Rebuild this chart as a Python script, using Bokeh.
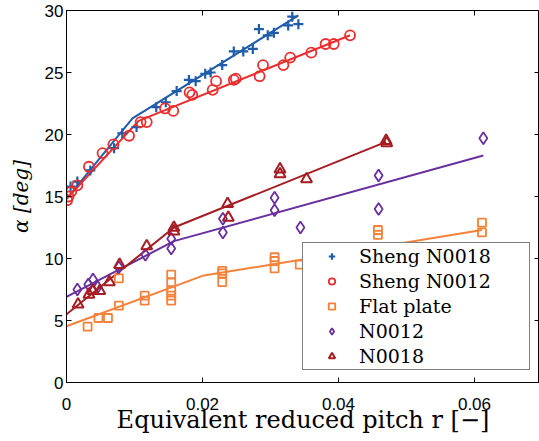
from math import pi
from bokeh.plotting import figure
from bokeh.models import Range1d, FixedTicker, Legend, LegendItem
from bokeh.embed import file_html
from bokeh.resources import INLINE

# ---- data ----
sheng18_r = [0.0006, 0.0016, 0.0035, 0.0070, 0.0082, 0.0103, 0.0132, 0.0146, 0.0162, 0.0180,
             0.0190, 0.0204, 0.0212, 0.0229, 0.0246, 0.0260, 0.0274, 0.0283, 0.0296, 0.0305,
             0.0326, 0.0332, 0.0341]
sheng18_a = [15.8, 16.2, 17.1, 18.9, 20.1, 20.6, 22.2, 22.6, 23.5, 24.4,
             24.3, 24.9, 25.0, 25.6, 26.7, 26.7, 26.9, 28.5, 28.0, 28.2,
             28.8, 29.5, 28.9]
sheng18_fit_r = [0.0, 0.0097, 0.0341]
sheng18_fit_a = [14.8, 21.3, 29.6]

sheng12_r = [0.0001, 0.0003, 0.0007, 0.0016, 0.0033, 0.0053, 0.0069, 0.0092, 0.0109, 0.0118,
             0.0145, 0.0157, 0.0181, 0.0185, 0.0215, 0.0220, 0.0246, 0.0249, 0.0284, 0.0289,
             0.0319, 0.0329, 0.0360, 0.0381, 0.0393, 0.0417]
sheng12_a = [14.7, 15.0, 15.4, 15.9, 17.4, 18.5, 19.2, 19.9, 21.0, 21.0,
             22.1, 21.9, 23.4, 23.2, 23.6, 24.3, 24.4, 24.5, 24.7, 25.6,
             25.6, 26.2, 26.6, 27.3, 27.3, 28.0]
sheng12_fit_r = [0.0, 0.0106, 0.0417]
sheng12_fit_a = [14.8, 21.1, 28.0]

flat_r = [0.0031, 0.0047, 0.0061, 0.0077, 0.0077, 0.0115, 0.0115, 0.0154, 0.0154, 0.0154,
          0.0154, 0.0154, 0.0229, 0.0229, 0.0229, 0.0306, 0.0306, 0.0306, 0.0343, 0.0458,
          0.0458, 0.0611, 0.0611]
flat_a = [4.5, 5.2, 5.2, 6.2, 8.4, 7.0, 6.6, 8.7, 8.1, 7.4,
          7.0, 6.6, 9.0, 8.8, 8.1, 10.1, 9.8, 9.2, 9.5, 12.3,
          11.9, 12.9, 12.1]
flat_fit_r = [0.0, 0.0200, 0.0611]
flat_fit_a = [4.54, 8.6, 12.3]

n12_r = [0.0016, 0.0032, 0.0039, 0.0046, 0.0077, 0.0116, 0.0154, 0.0154, 0.0230, 0.0230,
         0.0306, 0.0306, 0.0344, 0.0459, 0.0459, 0.0613]
n12_a = [7.5, 7.9, 8.3, 7.7, 9.3, 10.3, 11.6, 10.8, 13.2, 12.1,
         14.9, 13.9, 12.5, 16.7, 14.0, 19.7]
n12_fit_r = [0.0, 0.0158, 0.0613]
n12_fit_a = [6.9, 11.4, 18.3]

n18_r = [0.0017, 0.0033, 0.0039, 0.0049, 0.0063, 0.0078, 0.0118, 0.0158, 0.0158, 0.0237,
         0.0238, 0.0314, 0.0314, 0.0353, 0.0470, 0.0471]
n18_a = [6.3, 7.1, 7.4, 7.4, 8.1, 9.5, 11.0, 12.5, 12.2, 14.4,
         13.3, 17.2, 16.8, 16.4, 19.5, 19.3]
n18_fit_r = [0.0, 0.0158, 0.0470]
n18_fit_a = [5.5, 12.5, 19.4]

x_min, x_max = 0.0, 0.06956
y_min, y_max = 0.0, 30.0
x_ticks = [0, 0.02, 0.04, 0.06]
y_ticks = [0, 5, 10, 15, 20, 25, 30]
labels = ["Sheng N0018", "Sheng N0012", "Flat plate", "N0012", "N0018"]
x_title = "Equivalent reduced pitch r [\u2212]"
y_title = "\u03b1 [deg]"

BLUE = "#1f5caa"
RED = "#ec2d2d"
ORANGE = "#f5823a"
PURPLE = "#6a2f9e"
DRED = "#a61c22"

p = figure(width=539, height=441, output_backend="svg", toolbar_location=None,
           x_range=Range1d(x_min, x_max), y_range=Range1d(y_min, y_max),
           min_border_left=66, min_border_right=0, min_border_top=10, min_border_bottom=59)
p.background_fill_color = "white"
p.border_fill_color = "white"
p.outline_line_color = "black"
p.outline_line_width = 1
p.grid.visible = False

# fitted lines
p.line(sheng18_fit_r, sheng18_fit_a, line_color=BLUE, line_width=2)
p.line(sheng12_fit_r, sheng12_fit_a, line_color=RED, line_width=2)
p.line(flat_fit_r, flat_fit_a, line_color=ORANGE, line_width=2)
p.line(n12_fit_r, n12_fit_a, line_color=PURPLE, line_width=2)
p.line(n18_fit_r, n18_fit_a, line_color=DRED, line_width=2)

# markers
r1 = p.scatter(sheng18_r, sheng18_a, marker="cross", size=10, line_color=BLUE, line_width=2.2)
r2 = p.scatter(sheng12_r, sheng12_a, marker="circle", size=10, line_color=RED, line_width=1.8,
               fill_color=None)
r3 = p.scatter(flat_r, flat_a, marker="square", size=8, line_color=ORANGE, line_width=1.8,
               fill_color=None)
r4 = p.scatter(n12_r, n12_a, marker="diamond", size=12, line_color=PURPLE, line_width=1.8,
               fill_color=None)
r5 = p.scatter(n18_r, n18_a, marker="triangle", size=11, line_color=DRED, line_width=2,
               fill_color=None)

# inward ticks on the top and right frame edges (clipped to the frame)
p.scatter(x_ticks, [y_max] * len(x_ticks), marker="dash", angle=pi / 2, size=10,
          line_color="black", line_width=1)
p.scatter([x_max] * len(y_ticks), y_ticks, marker="dash", angle=0, size=10,
          line_color="black", line_width=1)

# axes
for ax in (p.xaxis[0], p.yaxis[0]):
    ax.major_tick_in = 5
    ax.major_tick_out = 0
    ax.minor_tick_line_color = None
    ax.axis_line_color = "black"
    ax.major_tick_line_color = "black"
    ax.major_label_text_font = "Liberation Sans"
    ax.major_label_text_font_size = "17px"
    ax.major_label_text_color = "black"
    ax.major_label_text_line_height = 1.0
    ax.axis_label_text_color = "black"
    ax.axis_label_text_font = "DejaVu Serif"
    ax.axis_label_text_line_height = 1.0

p.xaxis.ticker = FixedTicker(ticks=x_ticks)
p.yaxis.ticker = FixedTicker(ticks=y_ticks)
p.xaxis.major_label_standoff = 15
p.yaxis.major_label_standoff = 3
p.xaxis.axis_label = x_title
p.xaxis.axis_label_text_font_size = "24px"
p.xaxis.axis_label_text_font_style = "normal"
p.xaxis.axis_label_standoff = -7
p.yaxis.axis_label = y_title
p.yaxis.axis_label_text_font_size = "20px"
p.yaxis.axis_label_text_font_style = "italic"
p.yaxis.axis_label_standoff = 9

legend = Legend(items=[LegendItem(label=labels[0], renderers=[r1]),
                       LegendItem(label=labels[1], renderers=[r2]),
                       LegendItem(label=labels[2], renderers=[r3]),
                       LegendItem(label=labels[3], renderers=[r4]),
                       LegendItem(label=labels[4], renderers=[r5])],
                location=(236, 12))
legend.label_text_font = "DejaVu Serif"
legend.label_text_font_size = "19px"
legend.label_text_color = "black"
legend.border_line_color = "black"
legend.border_line_width = 1.5
legend.background_fill_color = "white"
legend.background_fill_alpha = 1
legend.padding = 2
legend.margin = 0
legend.spacing = 3
legend.glyph_width = 53
legend.glyph_height = 16
legend.label_height = 16
legend.label_width = 168
legend.label_standoff = 1
p.add_layout(legend, "center")

open("out.html", "w").write(file_html(p, INLINE))
